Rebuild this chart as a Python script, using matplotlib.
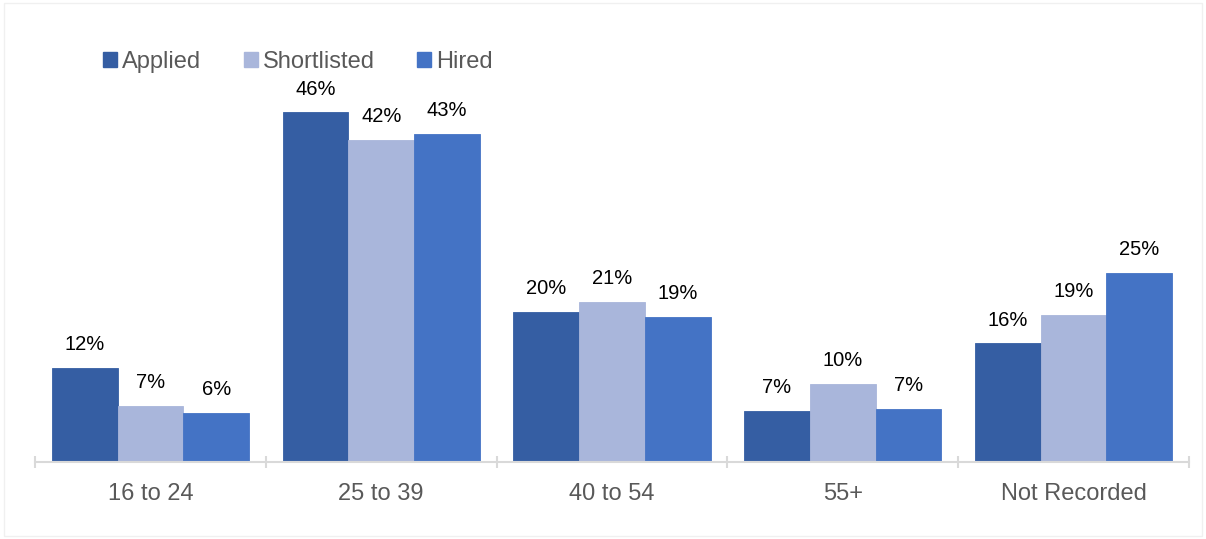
import matplotlib.pyplot as plt
import matplotlib.patches as mpatches
import numpy as np

plt.rcParams['font.family'] = ['Liberation Sans', 'DejaVu Sans']

categories = ['16 to 24', '25 to 39', '40 to 54', '55+', 'Not Recorded']
series = ['Applied', 'Shortlisted', 'Hired']
applied = [12.4, 46.0, 19.8, 6.7, 15.6]
shortlisted = [7.4, 42.4, 21.1, 10.3, 19.4]
hired = [6.4, 43.2, 19.1, 7.0, 24.9]
colors = ['#355EA3', '#A9B6DB', '#4473C5']

fig = plt.figure(figsize=(12.06, 5.39), dpi=100)
ax = fig.add_axes([35 / 1206, 77 / 539, 1154 / 1206, 380 / 539])

x = np.arange(len(categories))
w = 0.285
for i, (vals, name) in enumerate(zip([applied, shortlisted, hired], series)):
    pos = x + (i - 1) * w
    bars = ax.bar(pos, vals, w, color=colors[i], edgecolor=colors[i], linewidth=0.6, label=name)
    for b, v in zip(bars, vals):
        ax.annotate(f'{round(v)}%', (b.get_x() + b.get_width() / 2, v),
                    xytext=(0, 10), textcoords='offset points',
                    ha='center', va='bottom', fontsize=14.5, color='#000000')

ax.set_xlim(-0.5, len(categories) - 0.5)
ax.set_ylim(0, 50)
ax.set_yticks([])
for s in ['top', 'right', 'left']:
    ax.spines[s].set_visible(False)
ax.spines['bottom'].set_color('#D9D9D9')
ax.spines['bottom'].set_linewidth(1.5)

ax.set_xticks(x)
ax.set_xticklabels(categories, fontsize=17, color='#595959')
ax.tick_params(axis='x', which='major', length=0, pad=15)
ax.set_xticks(np.arange(-0.5, len(categories)), minor=True)
ax.tick_params(axis='x', which='minor', direction='inout', length=9, width=1.5, color='#D9D9D9')

handles = [mpatches.Patch(color=c, label=s) for c, s in zip(colors, series)]
fig.legend(handles=handles, loc='center left', bbox_to_anchor=(82 / 1206, 1 - 62 / 539),
           ncol=3, frameon=False, fontsize=17, labelcolor='#595959',
           handlelength=0.6, handleheight=0.6, handletextpad=0.2, columnspacing=1.8)

fig.patches.append(mpatches.Rectangle((0.003, 0.005), 0.994, 0.99, transform=fig.transFigure,
                                      fill=False, edgecolor='#F0F0F0', linewidth=1))

fig.savefig('out.png', dpi=100)
